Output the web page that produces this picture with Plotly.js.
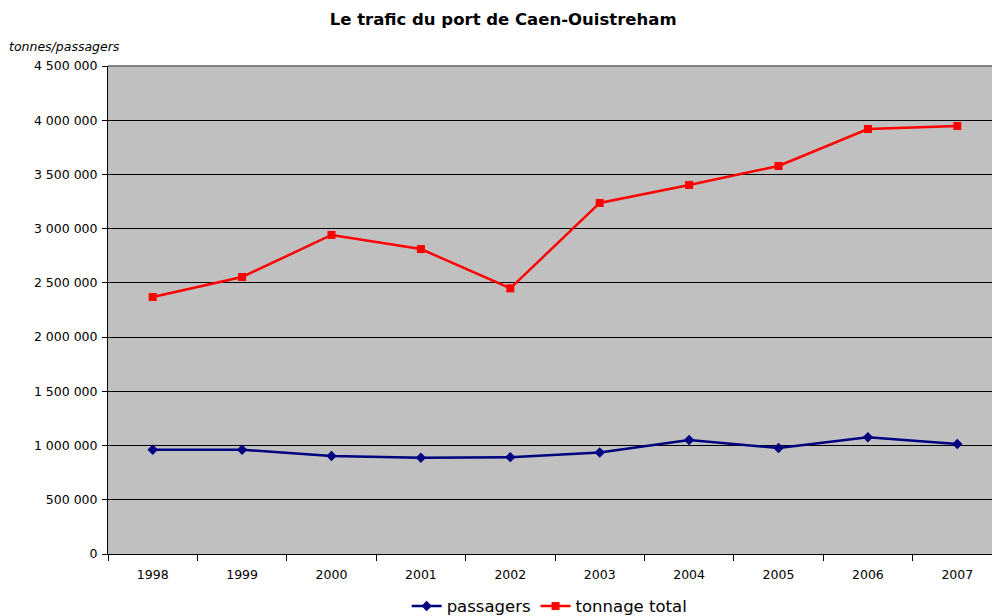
<!DOCTYPE html>
<html>
<head>
<meta charset="utf-8">
<script src="https://cdn.plot.ly/plotly-3.0.1.min.js"></script>
<style>
  html, body { margin: 0; padding: 0; overflow: hidden; background: white; }
</style>
</head>
<body>
<div id="chart"></div>
<script>
// Années et trafic
const annees = ['1998', '1999', '2000', '2001', '2002', '2003', '2004', '2005', '2006', '2007'];
const passagers = [962000, 962000, 904000, 887000, 893000, 936000, 1051000, 977000, 1076000, 1014000];
const tonnage = [2370000, 2554000, 2942000, 2812000, 2450000, 3237000, 3403000, 3578000, 3919000, 3947000];
const yTicks = [0, 500000, 1000000, 1500000, 2000000, 2500000, 3000000, 3500000, 4000000, 4500000];

const data = [
    {
        x: annees,
        y: passagers,
        name: 'passagers',
        type: 'scatter',
        mode: 'lines+markers',
        line: { color: '#000080', width: 2.5 },
        marker: { symbol: 'diamond', size: 8, color: '#000080' }
    },
    {
        x: annees,
        y: tonnage,
        name: 'tonnage total',
        type: 'scatter',
        mode: 'lines+markers',
        line: { color: '#FF0000', width: 2.5 },
        marker: { symbol: 'square', size: 8, color: '#FF0000' }
    }
];

const layout = {
    width: 1002,
    height: 616,
    margin: { l: 108, r: 0, t: 66, b: 62, autoexpand: false },
    paper_bgcolor: 'white',
    plot_bgcolor: '#C0C0C0',
    separators: ', ',
    font: { family: 'DejaVu Sans, Verdana, sans-serif', size: 12.5, color: '#000' },
    title: {
        text: '<b>Le trafic du port de Caen-Ouistreham</b>',
        font: { size: 16.5, color: '#000' },
        x: 0.442, xref: 'paper', xanchor: 'center',
        y: 0.969, yref: 'container', yanchor: 'middle'
    },
    xaxis: {
        type: 'category',
        range: [-0.5, 9.5],
        tickson: 'boundaries',
        ticks: 'outside',
        ticklen: 6,
        tickcolor: '#000',
        ticklabelstandoff: 9,
        showline: true,
        linecolor: '#000',
        linewidth: 1,
        showgrid: false,
        zeroline: false,
        automargin: false,
        tickfont: { size: 12.5 },
        fixedrange: true
    },
    yaxis: {
        range: [0, 4500000],
        tickvals: yTicks,
        tickformat: ',d',
        ticks: 'outside',
        ticklen: 5,
        tickcolor: '#000',
        ticklabelstandoff: 2,
        showline: true,
        linecolor: '#000',
        linewidth: 1,
        showgrid: true,
        gridcolor: '#000',
        gridwidth: 1,
        zeroline: false,
        automargin: false,
        tickfont: { size: 12.5 },
        fixedrange: true
    },
    shapes: [
        // bordure grise en haut de la zone de tracé
        { type: 'line', xref: 'paper', yref: 'paper', x0: 0, x1: 1, y0: 1, y1: 1,
          line: { color: '#808080', width: 2 } }
    ],
    annotations: [
        {
            text: '<i>tonnes/passagers</i>',
            xref: 'paper', yref: 'paper',
            x: -0.113, y: 1.04,
            xanchor: 'left', yanchor: 'middle',
            showarrow: false,
            font: { size: 12.5, color: '#000' }
        }
    ],
    showlegend: true,
    legend: {
        orientation: 'h',
        x: 0.494, xanchor: 'center',
        y: -0.107, yanchor: 'middle',
        font: { size: 16.5, color: '#000' },
        bgcolor: 'rgba(0,0,0,0)',
        itemwidth: 30,
        tracegroupgap: 0
    }
};

Plotly.newPlot('chart', data, layout, { displayModeBar: false, staticPlot: true });
</script>
</body>
</html>
